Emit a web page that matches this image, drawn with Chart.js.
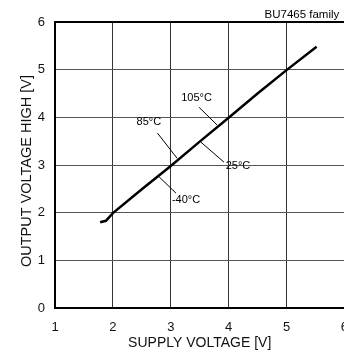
<!DOCTYPE html>
<html>
<head>
<meta charset="utf-8">
<script src="https://cdn.jsdelivr.net/npm/chart.js@4.4.1/dist/chart.umd.min.js"></script>
<style>
  html, body { margin: 0; padding: 0; background: #fff; overflow: hidden; }
  #wrap { width: 344px; height: 356px; overflow: hidden; }
</style>
</head>
<body>
<div id="wrap"><canvas id="vohChart" width="360" height="356"></canvas></div>
<script>
// supply voltage vs output voltage high (all temperatures overlap)
const supplyVoltage = [1.78, 1.88, 2.0, 2.5, 3.0, 3.5, 4.0, 4.5, 5.0, 5.52];
const outputHigh    = [1.80, 1.83, 1.99, 2.49, 2.98, 3.49, 3.99, 4.50, 4.99, 5.48];

const xTicks = [1, 2, 3, 4, 5, 6];
const yTicks = [0, 1, 2, 3, 4, 5, 6];

// temperature labels: text anchor and leader line (data units)
const tempLabels = ['105\u00B0C', '85\u00B0C', '25\u00B0C', '-40\u00B0C'];
const labelAt    = [[3.18, 4.41], [2.41, 3.90], [3.95, 2.97], [3.02, 2.26]];
const leaderFrom = [[3.49, 4.21], [2.77, 3.67], [3.52, 3.48], [2.80, 2.75]];
const leaderTo   = [[3.80, 3.84], [3.11, 3.14], [3.92, 3.06], [3.09, 2.41]];

const familyNote = 'BU7465 family';
const yTitle = 'OUTPUT VOLTAGE HIGH [V]';

const points = supplyVoltage.map(function(v, i) { return {x: v, y: outputHigh[i]}; });

const notesPlugin = {
    id: 'notes',
    afterDatasetsDraw: function(chart) {
        const ctx = chart.ctx;
        const xs = chart.scales.x, ys = chart.scales.y;
        const a = chart.chartArea;
        ctx.save();
        ctx.strokeStyle = '#000';
        ctx.lineWidth = 1;
        ctx.fillStyle = '#000';
        ctx.font = '11px "Liberation Sans", Arial, sans-serif';
        ctx.textBaseline = 'middle';
        ctx.textAlign = 'left';
        for (let i = 0; i < tempLabels.length; i++) {
            ctx.beginPath();
            ctx.moveTo(xs.getPixelForValue(leaderFrom[i][0]), ys.getPixelForValue(leaderFrom[i][1]));
            ctx.lineTo(xs.getPixelForValue(leaderTo[i][0]), ys.getPixelForValue(leaderTo[i][1]));
            ctx.stroke();
            ctx.fillText(tempLabels[i], xs.getPixelForValue(labelAt[i][0]), ys.getPixelForValue(labelAt[i][1]));
        }
        // top border of the frame
        ctx.lineWidth = 2;
        ctx.beginPath();
        ctx.moveTo(a.left - 1, a.top);
        ctx.lineTo(a.right, a.top);
        ctx.stroke();
        // family note above the frame
        ctx.font = '11.5px "Liberation Sans", Arial, sans-serif';
        ctx.textBaseline = 'alphabetic';
        ctx.fillText(familyNote, xs.getPixelForValue(4.62), a.top - 4);
        // y axis title, sits a little below the plot centre in the original
        ctx.fillStyle = '#111';
        ctx.font = '14.5px "Liberation Sans", Arial, sans-serif';
        ctx.textAlign = 'center';
        ctx.textBaseline = 'middle';
        ctx.translate(27, (a.top + a.bottom) / 2 + 6);
        ctx.rotate(-Math.PI / 2);
        ctx.fillText(yTitle, 0, 0);
        ctx.restore();
    }
};

new Chart(document.getElementById('vohChart'), {
    type: 'line',
    data: {
        datasets: [{
            label: 'VOH',
            data: points,
            borderColor: '#000',
            borderWidth: 2.5,
            pointRadius: 0,
            tension: 0,
            fill: false
        }]
    },
    options: {
        responsive: false,
        animation: false,
        devicePixelRatio: 1,
        layout: { padding: { top: 22, right: 14, left: 0, bottom: 0 } },
        plugins: {
            legend: { display: false },
            tooltip: { enabled: false }
        },
        scales: {
            x: {
                type: 'linear',
                min: 1,
                max: 6,
                afterBuildTicks: function(scale) {
                    scale.ticks = xTicks.map(function(v) { return {value: v}; });
                },
                afterFit: function(scale) { scale.height = 48; },
                grid: {
                    color: '#333',
                    lineWidth: 1,
                    drawTicks: false
                },
                border: { color: '#000', width: 2 },
                ticks: {
                    padding: 12,
                    color: '#111',
                    font: { family: '"Liberation Sans", Arial, sans-serif', size: 13 }
                },
                title: {
                    display: true,
                    text: 'SUPPLY VOLTAGE [V]',
                    color: '#111',
                    padding: { top: 0, bottom: 4 },
                    font: { family: '"Liberation Sans", Arial, sans-serif', size: 14 }
                }
            },
            y: {
                type: 'linear',
                min: 0,
                max: 6,
                afterBuildTicks: function(scale) {
                    scale.ticks = yTicks.map(function(v) { return {value: v}; });
                },
                afterFit: function(scale) { scale.width = 55; },
                grid: {
                    color: '#555',
                    lineWidth: 1,
                    drawTicks: false
                },
                border: { color: '#000', width: 2 },
                ticks: {
                    padding: 10,
                    color: '#111',
                    font: { family: '"Liberation Sans", Arial, sans-serif', size: 13 }
                }
            }
        }
    },
    plugins: [notesPlugin]
});
</script>
</body>
</html>
